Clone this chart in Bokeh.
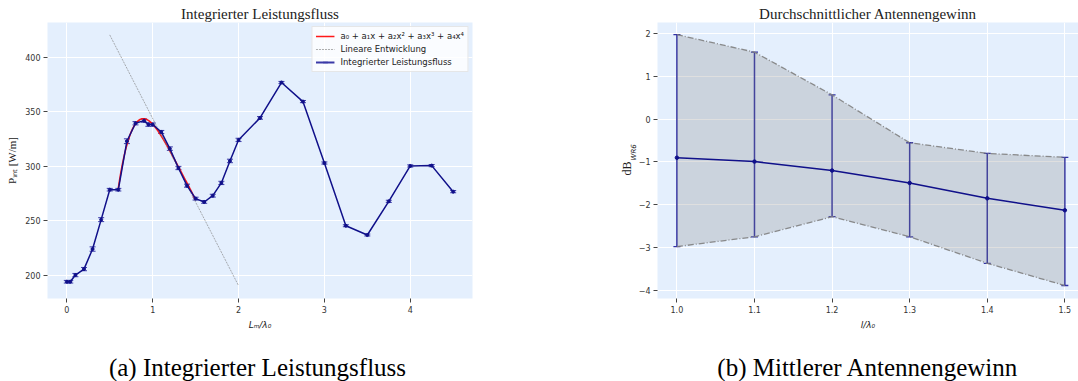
import numpy as np
from math import pi
from bokeh.plotting import figure
from bokeh.layouts import row, column
from bokeh.models import (ColumnDataSource, Whisker, TeeHead, Legend, LegendItem,
                          Title, Range1d, FixedTicker, CustomJSTickFormatter)
from bokeh.core.properties import value
from bokeh.embed import file_html
from bokeh.resources import INLINE

# --- integrated power flow vs. L_m / lambda_0 ---
lm_ratio = [0.0, 0.04, 0.1, 0.2, 0.3, 0.4, 0.5, 0.6, 0.7, 0.8, 0.9, 0.95, 1.0,
            1.1, 1.2, 1.3, 1.4, 1.5, 1.6, 1.7, 1.8, 1.9, 2.0, 2.25, 2.5, 2.75,
            3.0, 3.25, 3.5, 3.75, 4.0, 4.25, 4.5]
p_int = [193.9, 193.9, 200.0, 205.5, 223.9, 250.9, 278.4, 278.4, 322.9, 339.4,
         341.8, 338.2, 338.2, 331.4, 316.1, 298.3, 282.1, 270.2, 267.1, 272.9,
         284.6, 304.8, 324.1, 344.3, 376.8, 359.3, 302.9, 245.3, 236.8, 267.7,
         300.2, 300.5, 276.6]
p_err = [1.2, 1.2, 1.5, 1.5, 2.0, 1.8, 1.2, 1.2, 2.2, 1.5, 1.5, 1.6, 1.5,
         1.4, 1.6, 1.5, 1.4, 1.3, 1.2, 1.3, 1.5, 1.6, 1.5, 1.2, 1.0, 1.0,
         1.0, 0.9, 0.9, 1.0, 1.0, 1.0, 1.0]

# range used for the 4th order polynomial fit
fit_range = [0.6, 1.5]

# linear expansion
lin_x = [0.5, 2.0]
lin_y = [420.5, 190.3]

# --- mean antenna gain vs. l / lambda_0 ---
l_ratio = [1.0, 1.1, 1.2, 1.3, 1.4, 1.5]
gain_mean = [-0.90, -0.99, -1.20, -1.49, -1.85, -2.13]
gain_upper = [1.98, 1.57, 0.57, -0.55, -0.80, -0.89]
gain_lower = [-2.98, -2.75, -2.28, -2.75, -3.37, -3.89]

captions = ["(a) Integrierter Leistungsfluss", "(b) Mittlerer Antennengewinn"]

BG = "#e4effd"
NAVY = "#10108a"
BAR = "#3a3aa8"
TICK_FONT = "DejaVu Sans"
SERIF = "Liberation Serif"
TOP_H = 336      # height of the chart row
CAP_H = 45       # height of the caption row


def style_axes(p):
    p.background_fill_color = BG
    p.border_fill_color = "white"
    p.outline_line_color = None
    p.grid.grid_line_color = "white"
    p.grid.grid_line_width = 1
    for ax in (p.xaxis[0], p.yaxis[0]):
        ax.axis_line_color = None
        ax.major_tick_line_color = "#444444"
        ax.major_tick_out = 4
        ax.major_tick_in = 0
        ax.minor_tick_out = 0
        ax.minor_tick_in = 0
        ax.major_label_text_font = TICK_FONT
        ax.major_label_text_font_size = "8px"
        ax.major_label_text_color = "#333333"
        ax.major_label_standoff = 3
        ax.axis_label_text_color = "#222222"
        ax.axis_label_text_font_style = "normal"
    p.title.text_font = SERIF
    p.title.text_font_size = "15px"
    p.title.text_font_style = "normal"
    p.title.text_color = "#222222"
    p.title.align = "center"
    p.title.standoff = 2


def caption_fig(width, text, cx):
    c = figure(width=width, height=CAP_H, x_range=Range1d(0, width),
               y_range=Range1d(0, CAP_H), output_backend="svg",
               toolbar_location=None, min_border=0, outline_line_color=None)
    c.axis.visible = False
    c.grid.visible = False
    c.text(x=[cx], y=[CAP_H - 31], text=[text], text_align="center",
           text_baseline="middle", text_font=value(SERIF),
           text_font_size="25px", text_color="black")
    return c


# ---------------- left panel ----------------
p1 = figure(width=540, height=TOP_H, title="Integrierter Leistungsfluss",
            x_range=Range1d(-0.225, 4.725), y_range=Range1d(178.5, 431.9),
            output_backend="svg", toolbar_location=None,
            min_border_left=47, min_border_right=68,
            min_border_top=22, min_border_bottom=TOP_H - 298)
style_axes(p1)
p1.xaxis.ticker = FixedTicker(ticks=[0, 1, 2, 3, 4])
p1.yaxis.ticker = FixedTicker(ticks=[200, 250, 300, 350, 400])
p1.xaxis.axis_label = "Lₘ/λ₀"
p1.xaxis.axis_label_text_font = TICK_FONT
p1.xaxis.axis_label_text_font_style = "italic"
p1.xaxis.axis_label_text_font_size = "9px"
p1.xaxis.axis_label_standoff = 4
p1.yaxis.axis_label = "Pᵢₙₜ [W/m]"
p1.yaxis.axis_label_text_font = SERIF
p1.yaxis.axis_label_text_font_size = "11px"
p1.yaxis.axis_label_standoff = 4

xa = np.array(lm_ratio)
ya = np.array(p_int)
mask = (xa >= fit_range[0]) & (xa <= fit_range[1])
coef = np.polyfit(xa[mask], ya[mask], 4)
xf = np.linspace(fit_range[0], fit_range[1], 200)
r_fit = p1.line(xf, np.polyval(coef, xf), line_color="red", line_width=1.6, line_alpha=0.9)

r_lin = p1.line(lin_x, lin_y, line_color="gray", line_width=0.8, line_alpha=0.8,
                line_dash="2 1")

src1 = ColumnDataSource(dict(x=lm_ratio, y=p_int,
                             lo=[v - e for v, e in zip(p_int, p_err)],
                             hi=[v + e for v, e in zip(p_int, p_err)]))
p1.add_layout(Whisker(source=src1, base="x", upper="hi", lower="lo",
                      line_color=BAR, line_width=1,
                      upper_head=TeeHead(size=6, line_color=BAR, line_width=1),
                      lower_head=TeeHead(size=6, line_color=BAR, line_width=1)))
r_main = p1.line("x", "y", source=src1, line_color=NAVY, line_width=1.5)
p1.scatter("x", "y", source=src1, size=3, color=NAVY)

# legend key for the error-bar series (placed outside the visible range)
r_leg_line = p1.line(x=[-10, -9], y=[0, 0], line_color=BAR, line_width=1.8)
r_bar = p1.scatter(x=[-10], y=[0], marker="dash", angle=pi / 2, size=11,
                   line_color=BAR, line_width=1.3)

legend = Legend(items=[
    LegendItem(label="a₀ + a₁x + a₂x² + a₃x³ + a₄x⁴", renderers=[r_fit]),
    LegendItem(label="Lineare Entwicklung", renderers=[r_lin]),
    LegendItem(label="Integrierter Leistungsfluss", renderers=[r_leg_line, r_bar]),
], location="top_right")
legend.margin = 4
legend.padding = 3
legend.spacing = 1
legend.label_height = 12
legend.glyph_height = 12
legend.glyph_width = 19
legend.label_standoff = 6
legend.label_text_font = TICK_FONT
legend.label_text_font_size = "8.5px"
legend.label_text_color = "#222222"
legend.background_fill_color = "white"
legend.background_fill_alpha = 0.8
legend.border_line_color = "#d0d0d0"
legend.border_line_width = 1
p1.add_layout(legend)

# ---------------- right panel ----------------
p2 = figure(width=538, height=TOP_H, title="Durchschnittlicher Antennengewinn",
            x_range=Range1d(0.975, 1.5176), y_range=Range1d(-4.194, 2.264),
            output_backend="svg", toolbar_location=None,
            min_border_left=117, min_border_right=0,
            min_border_top=22, min_border_bottom=TOP_H - 298)
style_axes(p2)
p2.title.offset = 2
p2.xaxis.ticker = FixedTicker(ticks=l_ratio)
p2.xaxis.formatter = CustomJSTickFormatter(code="return tick.toFixed(1);")
p2.yaxis.ticker = FixedTicker(ticks=[-4, -3, -2, -1, 0, 1, 2])
p2.yaxis.formatter = CustomJSTickFormatter(
    code="return (tick < 0 ? '\u2212' : '') + Math.abs(tick).toFixed(0);")
p2.xaxis.axis_label = "l/λ₀"
p2.xaxis.axis_label_text_font = TICK_FONT
p2.xaxis.axis_label_text_font_style = "italic"
p2.xaxis.axis_label_text_font_size = "9px"
p2.xaxis.axis_label_standoff = 4

p2.varea(x=l_ratio, y1=gain_lower, y2=gain_upper, fill_color="gray", fill_alpha=0.25)
for bound in (gain_upper, gain_lower):
    p2.line(l_ratio, bound, line_color="gray", line_width=1.3, line_alpha=0.9,
            line_dash="6 2 1 2")

src2 = ColumnDataSource(dict(x=l_ratio, y=gain_mean, lo=gain_lower, hi=gain_upper))
p2.add_layout(Whisker(source=src2, base="x", upper="hi", lower="lo",
                      line_color="#3030a6", line_width=1.5,
                      upper_head=TeeHead(size=7, line_color="#3030a6", line_width=1.3),
                      lower_head=TeeHead(size=7, line_color="#3030a6", line_width=1.3)))
p2.line("x", "y", source=src2, line_color=NAVY, line_width=1.6)
p2.scatter("x", "y", source=src2, size=3.5, color=NAVY)

# y label: "dB" with italic subscript "WR6", as two stacked side titles
p2.add_layout(Title(text="WR6", align="left", offset=138, standoff=-4,
                    text_font=TICK_FONT, text_font_style="italic",
                    text_font_size="7px", text_color="#222222"), "left")
p2.add_layout(Title(text="dB", align="left", offset=123, standoff=-8,
                    text_font=SERIF, text_font_style="normal",
                    text_font_size="12px", text_color="#222222"), "left")

c1 = caption_fig(540, captions[0], 257)
c2 = caption_fig(538, captions[1], 327.5)

layout = column(row(p1, p2), row(c1, c2))
open("out.html", "w").write(file_html(layout, INLINE))
